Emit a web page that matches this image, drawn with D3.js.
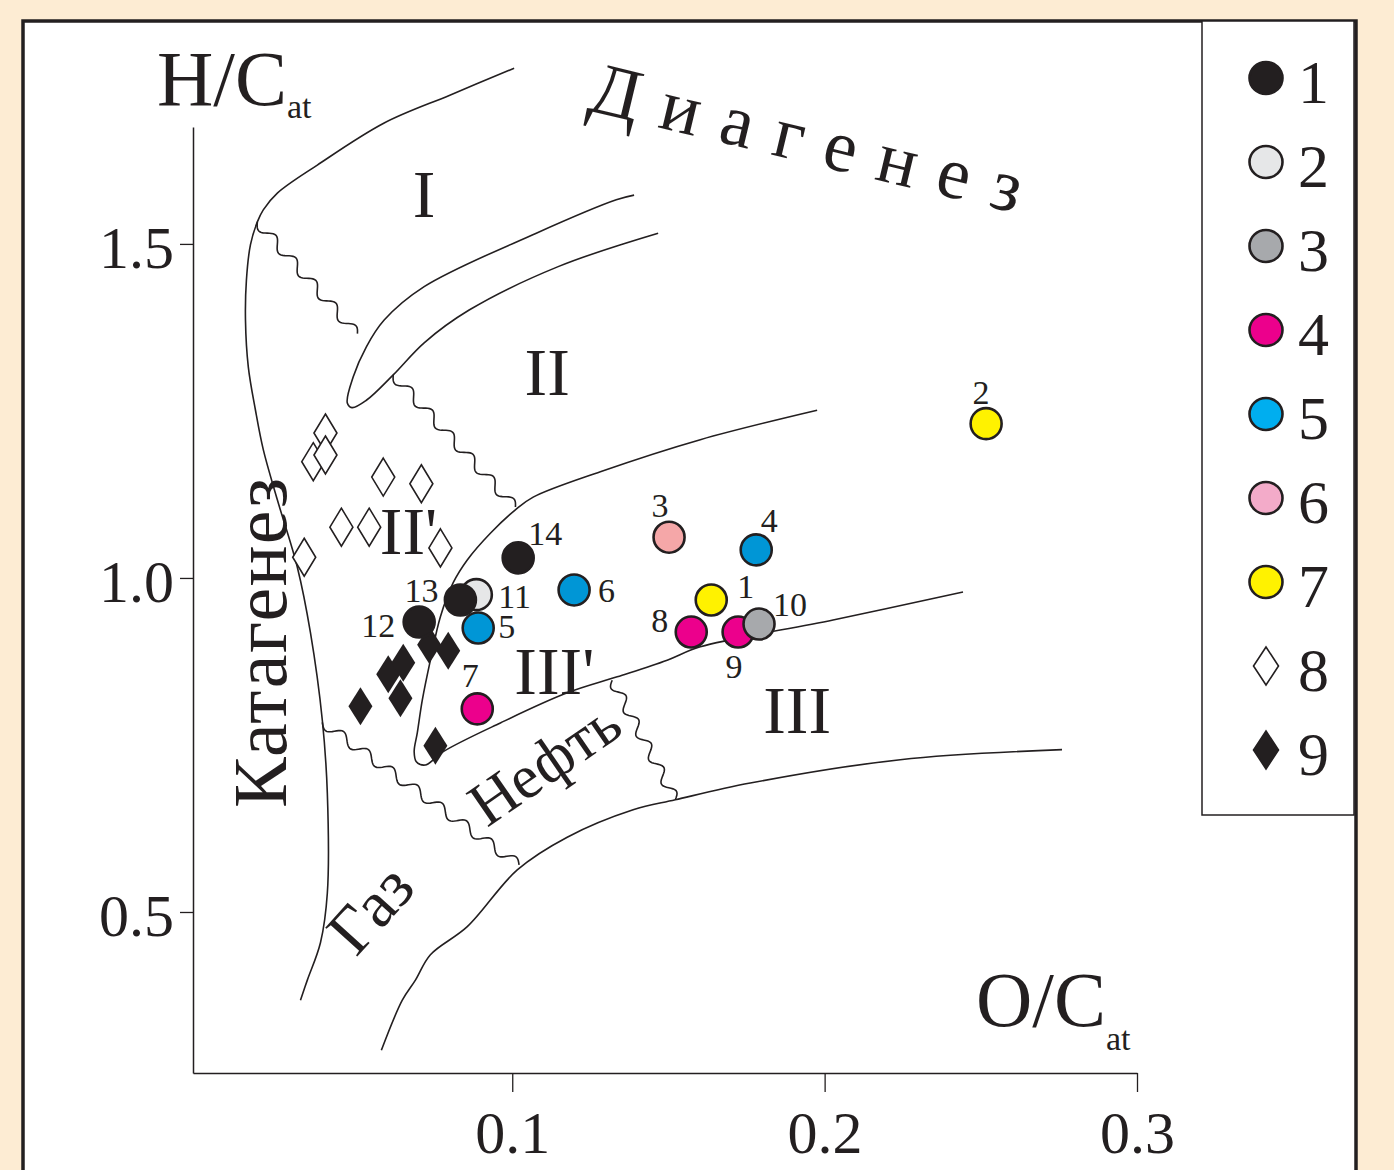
<!DOCTYPE html>
<html>
<head>
<meta charset="utf-8">
<script src="https://cdn.jsdelivr.net/npm/d3@7"></script>
<style>
  html, body { margin: 0; padding: 0; background: #fdecd3; }
  svg { display: block; }
  text { font-family: "Liberation Serif", "DejaVu Serif", serif; fill: #231f20; }
</style>
</head>
<body>
<div class="chart"></div>
<script>
//Config
var width = 1394,
    height = 1170,
    ink = "#231f20";

//Data
// legend groups
var legendLabels = ["1", "2", "3", "4", "5", "6", "7", "8", "9"];
var legendFill = ["#231f20", "#e6e7e8", "#a7a9ac", "#ec008c", "#00aeef", "#f3abc9", "#fff200", "#ffffff", "#231f20"];

// numbered samples (circles), in drawing order
var sampleNo   = [11, 13, 12, 14, 5, 6, 7, 3, 4, 1, 8, 9, 10, 2];
var sampleType = [2, 1, 1, 1, 5, 5, 4, 6, 5, 7, 4, 4, 3, 7];
var sampleOC   = [0.0885, 0.0834, 0.0702, 0.1019, 0.0891, 0.1198, 0.0888, 0.1502, 0.1781, 0.1637, 0.1573, 0.1723, 0.1790, 0.2517];
var sampleHC   = [0.975, 0.967, 0.934, 1.030, 0.925, 0.982, 0.804, 1.061, 1.042, 0.967, 0.919, 0.919, 0.931, 1.231];
var pointFill  = { 1: "#231f20", 2: "#e6e7e8", 3: "#a7a9ac", 4: "#ec008c", 5: "#0096d6", 6: "#f5a7a8", 7: "#fff200" };

// group 8 (open diamonds) and group 9 (filled diamonds)
var openOC = [0.0402, 0.0363, 0.0402, 0.0587, 0.0709, 0.0453, 0.0542, 0.0770, 0.0334];
var openHC = [1.217, 1.174, 1.184, 1.151, 1.141, 1.076, 1.076, 1.045, 1.031];
var fillOC = [0.0734, 0.0795, 0.0603, 0.0651, 0.0642, 0.0514, 0.0754];
var fillHC = [0.900, 0.891, 0.856, 0.873, 0.820, 0.808, 0.749];

// axis ticks
var xTicks = [0.1, 0.2, 0.3];
var yTicks = [0.5, 1.0, 1.5];

// field boundaries, [O/C, H/C]
var envelopeLine = [[0.1006,1.763],[0.0802,1.723],[0.0590,1.681],[0.0376,1.618],[0.0248,1.576],[0.0203,1.551],
  [0.0184,1.533],[0.0162,1.499],[0.0149,1.446],[0.0146,1.386],[0.0155,1.316],[0.0178,1.251],[0.0203,1.192],
  [0.0248,1.117],[0.0312,1.016],[0.0354,0.918],[0.0392,0.787],[0.0408,0.678],[0.0408,0.528],[0.0386,0.454],
  [0.0344,0.398],[0.0322,0.368]];
var tongueLine = [[0.1390,1.573],[0.1333,1.566],[0.1077,1.516],[0.0718,1.436],[0.0590,1.386],[0.0533,1.346],
  [0.0491,1.301],[0.0472,1.262],[0.0487,1.255],[0.0533,1.266],[0.0619,1.304],[0.0718,1.352],[0.0862,1.401],
  [0.1147,1.466],[0.1467,1.516]];
var type2Line = [[0.1976,1.251],[0.1602,1.207],[0.1282,1.159],[0.1067,1.121],[0.1010,1.102],[0.0930,1.067],
  [0.0856,1.027],[0.0811,0.993],[0.0770,0.942],[0.0738,0.877],[0.0712,0.817],[0.0696,0.768],[0.0686,0.740],
  [0.0693,0.725],[0.0722,0.720],[0.0779,0.740],[0.0962,0.783],[0.1176,0.828],[0.1336,0.852],[0.1496,0.877],
  [0.1602,0.897],[0.2027,0.937],[0.2443,0.979]];
var type3Line = [[0.0581,0.293],[0.0648,0.368],[0.0690,0.398],[0.0738,0.436],[0.0856,0.478],[0.1016,0.563],
  [0.1176,0.612],[0.1387,0.653],[0.1522,0.668],[0.1762,0.693],[0.2242,0.728],[0.2760,0.743]];
var wavyBounds = [
  [[0.0184,1.533],[0.0504,1.364]],
  [[0.0619,1.304],[0.1010,1.105]],
  [[0.0392,0.784],[0.1022,0.570]],
  [[0.1320,0.847],[0.1522,0.668]]
];

// label placement for numbered samples: dx, dy, anchor
var labelPos = {
  14: [10, -13, "start"], 11: [22, 13, "start"], 13: [-22, 2, "end"], 12: [-24, 15, "end"],
  5: [20, 10, "start"], 6: [24, 12, "start"], 7: [-7, -22, "middle"], 3: [-9, -20, "middle"],
  4: [13, -18, "middle"], 1: [26, -2, "start"], 10: [14, -8, "start"], 8: [-23, 0, "end"],
  9: [-4, 46, "middle"], 2: [-5, -20, "middle"]
};

//Scales
var x = d3.scaleLinear().domain([-0.0022, 0.3]).range([193, 1137]);
var y = d3.scaleLinear().domain([0.259, 1.675]).range([1073, 127]);

var svg = d3.select(".chart")
  .append("svg")
  .attr("width", width)
  .attr("height", height);

//Panel
svg.append("rect")
  .attr("x", 23).attr("y", 21)
  .attr("width", 1333).attr("height", 1200)
  .style("fill", "white").style("stroke", ink).style("stroke-width", 3.5);

//Boundaries
var line = d3.line()
  .x(function (d) { return x(d[0]); })
  .y(function (d) { return y(d[1]); })
  .curve(d3.curveCatmullRom.alpha(0.5));

var gLines = svg.append("g")
  .style("fill", "none").style("stroke", ink).style("stroke-width", 1.6);

[envelopeLine, tongueLine, type2Line, type3Line].forEach(function (pts) {
  gLines.append("path").attr("d", line(pts));
});

function wavyPath(seg) {
  var x0 = x(seg[0][0]), y0 = y(seg[0][1]),
      x1 = x(seg[1][0]), y1 = y(seg[1][1]);
  var len = Math.hypot(x1 - x0, y1 - y0),
      nx = -(y1 - y0) / len, ny = (x1 - x0) / len,
      n = Math.round(len / 30) || 1;
  var pts = d3.range(0, 1.0001, 1 / (len / 1.5)).map(function (t) {
    var a = 5 * Math.sin(2 * Math.PI * n * t);
    return [x0 + (x1 - x0) * t + nx * a, y0 + (y1 - y0) * t + ny * a];
  });
  return d3.line()(pts);
}

wavyBounds.forEach(function (seg) {
  gLines.append("path").attr("d", wavyPath(seg));
});

//Axes
var xAxis = svg.append("g")
  .attr("transform", "translate(0,1073)")
  .call(d3.axisBottom(x).tickValues(xTicks).tickSize(19).tickSizeOuter(0).tickFormat(d3.format(".1f")));
var yAxis = svg.append("g")
  .attr("transform", "translate(193,0)")
  .call(d3.axisLeft(y).tickValues(yTicks).tickSize(13).tickSizeOuter(0).tickFormat(d3.format(".1f")));

[xAxis, yAxis].forEach(function (g) {
  g.attr("font-family", null).attr("font-size", null);
  g.select(".domain").style("stroke", ink).style("stroke-width", 1.5);
  g.selectAll(".tick line").style("stroke", ink).style("stroke-width", 1.3);
  g.selectAll(".tick text").style("font-size", "60px").style("fill", ink);
});
xAxis.selectAll(".tick text").attr("y", 80).attr("dy", null);
yAxis.selectAll(".tick text").attr("x", -19).attr("dy", "0.40em");

//Axis titles
var hTitle = svg.append("text").attr("x", 157).attr("y", 105).style("font-size", "78px");
hTitle.append("tspan").text("H/C");
hTitle.append("tspan").attr("dy", 13).style("font-size", "34px").text("at");

var oTitle = svg.append("text").attr("x", 976).attr("y", 1026).style("font-size", "78px");
oTitle.append("tspan").text("O/C");
oTitle.append("tspan").attr("dy", 24).style("font-size", "34px").text("at");

//Field names
var fieldNames = [
  { t: "I",    oc: 0.0718, hc: 1.540 },
  { t: "II",   oc: 0.1112, hc: 1.274 },
  { t: "II'",  oc: 0.0668, hc: 1.036 },
  { t: "III'", oc: 0.1135, hc: 0.827 },
  { t: "III",  oc: 0.1912, hc: 0.768 }
];
svg.append("g").selectAll("text")
  .data(fieldNames)
  .enter()
  .append("text")
  .attr("x", function (d) { return x(d.oc); })
  .attr("y", function (d) { return y(d.hc); })
  .style("text-anchor", "middle")
  .style("font-size", "68px")
  .text(function (d) { return d.t; });

function rotatedLabel(txt, px, py, angle, size, len) {
  var t = svg.append("text")
    .attr("transform", "translate(" + px + "," + py + ") rotate(" + angle + ")")
    .style("font-size", size + "px")
    .text(txt);
  if (len) t.attr("textLength", len).attr("lengthAdjust", "spacing");
}
rotatedLabel("Диагенез", 586, 110, 13.5, 74, 442);
rotatedLabel("Катагенез", 286, 808, -90, 76, 330);
rotatedLabel("Нефть", 487, 828, -34.5, 62, 168);
rotatedLabel("Газ", 356, 958, -48, 66, null);

//Markers
function diamond(w, h) {
  return "M0," + (-h / 2) + "L" + (w / 2) + ",0L0," + (h / 2) + "L" + (-w / 2) + ",0Z";
}

var gMarks = svg.append("g");

gMarks.selectAll(".open")
  .data(d3.range(openOC.length))
  .enter()
  .append("path")
  .classed("open", true)
  .attr("transform", function (i) { return "translate(" + x(openOC[i]) + "," + y(openHC[i]) + ")"; })
  .attr("d", diamond(23, 38))
  .style("fill", "white").style("stroke", ink).style("stroke-width", 1.6);

gMarks.selectAll(".filled")
  .data(d3.range(fillOC.length))
  .enter()
  .append("path")
  .classed("filled", true)
  .attr("transform", function (i) { return "translate(" + x(fillOC[i]) + "," + y(fillHC[i]) + ")"; })
  .attr("d", diamond(24, 38))
  .style("fill", ink).style("stroke", "none");

gMarks.selectAll(".sample")
  .data(d3.range(sampleNo.length))
  .enter()
  .append("circle")
  .classed("sample", true)
  .attr("cx", function (i) { return x(sampleOC[i]); })
  .attr("cy", function (i) { return y(sampleHC[i]); })
  .attr("r", 15.5)
  .style("fill", function (i) { return pointFill[sampleType[i]]; })
  .style("stroke", ink).style("stroke-width", 2.6);

gMarks.selectAll(".num")
  .data(d3.range(sampleNo.length))
  .enter()
  .append("text")
  .classed("num", true)
  .attr("x", function (i) { return x(sampleOC[i]) + labelPos[sampleNo[i]][0]; })
  .attr("y", function (i) { return y(sampleHC[i]) + labelPos[sampleNo[i]][1]; })
  .style("text-anchor", function (i) { return labelPos[sampleNo[i]][2]; })
  .style("font-size", "34px")
  .text(function (i) { return sampleNo[i]; });

//Legend
svg.append("rect")
  .attr("x", 1202).attr("y", 21)
  .attr("width", 152).attr("height", 794)
  .style("fill", "white").style("stroke", ink).style("stroke-width", 1.5);

var ly = d3.scalePoint().domain(legendLabels).range([78, 750]);

var legend = svg.append("g").selectAll("g")
  .data(legendLabels)
  .enter()
  .append("g")
  .attr("transform", function (d) { return "translate(1266," + ly(d) + ")"; });

legend.filter(function (d, i) { return i < 7; })
  .append("ellipse")
  .attr("rx", 16.5).attr("ry", 16)
  .style("fill", function (d, i) { return legendFill[i]; })
  .style("stroke", ink).style("stroke-width", 2.6);

legend.filter(function (d, i) { return i >= 7; })
  .append("path")
  .attr("d", diamond(25, 38))
  .style("fill", function (d) { return legendFill[+d - 1]; })
  .style("stroke", ink).style("stroke-width", 1.6);

legend.append("text")
  .attr("x", 32).attr("y", 25)
  .style("font-size", "62px")
  .text(function (d) { return d; });
</script>
</body>
</html>
